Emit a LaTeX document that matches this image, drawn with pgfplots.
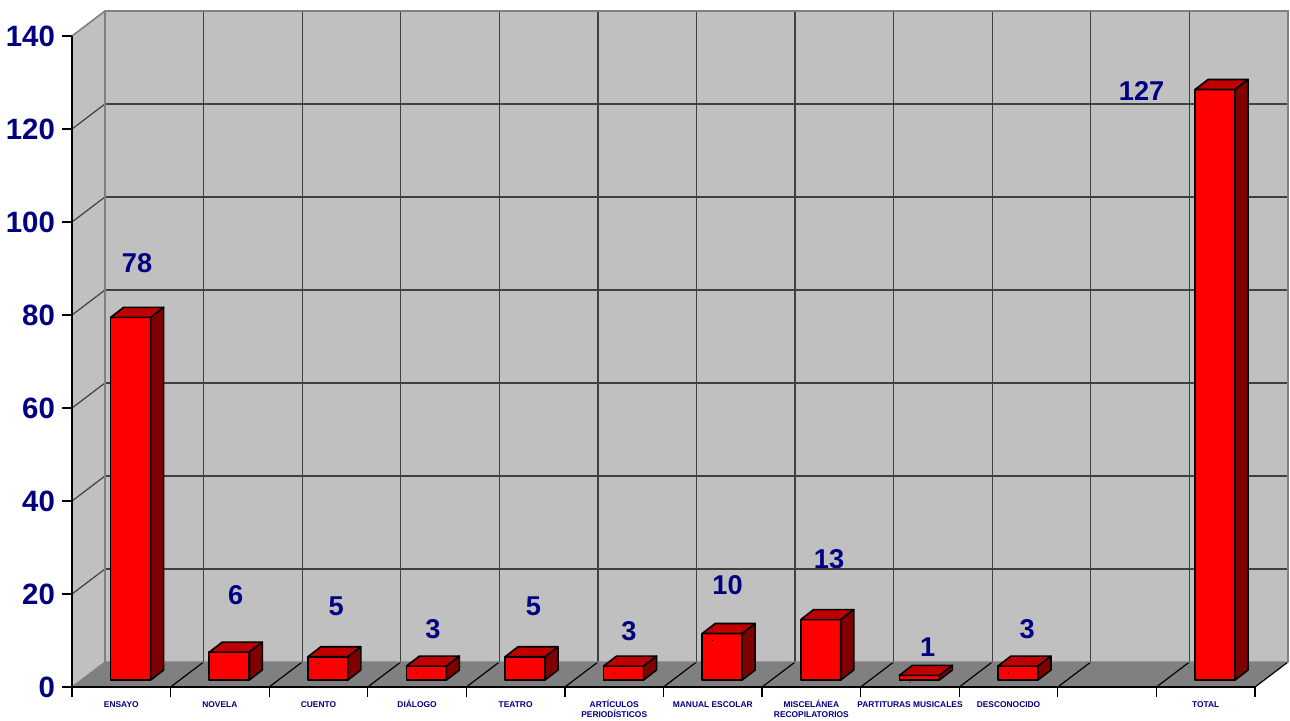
\documentclass[border=0pt]{standalone}
\usepackage{pgfplots}
\pgfplotsset{compat=1.18}
\usepackage{pgfplotstable}
\usepackage{fontspec}
\setmainfont{Liberation Sans}
\definecolor{navy}{HTML}{000080}
\definecolor{wall}{HTML}{C0C0C0}
\definecolor{floorc}{HTML}{808080}
\definecolor{edgec}{HTML}{808080}
\definecolor{gridc}{HTML}{404040}
\definecolor{barfront}{HTML}{FF0000}
\definecolor{bartop}{HTML}{C00000}
\definecolor{barside}{HTML}{800000}

\pgfplotstableread{
x v lx ly
0 78 0.16 91.2
1 6 1.16 19.8
2 5 2.18 17.4
3 3 3.16 12.5
4 5 4.18 17.4
5 3 5.15 12.0
6 10 6.15 21.9
7 13 7.18 27.5
8 1 8.18 8.6
9 3 9.19 12.5
11 127 10.35 128.2
}\data

\begin{document}
\begin{tikzpicture}
\path[use as bounding box] (0,0) rectangle (645pt,360pt);
\begin{axis}[
  at={(36pt,16.5pt)}, anchor=south west,
  scale only axis, width=591.5pt, height=325.5pt,
  xmin=-0.5, xmax=11.5, ymin=0, ymax=140,
  clip=false, axis on top,
  axis x line*=bottom, axis y line*=left,
  axis line style={black, line width=0.7pt},
  xtick={0,...,11},
  xticklabels={ENSAYO,NOVELA,CUENTO,DIÁLOGO,TEATRO,{ARTÍCULOS\\PERIODÍSTICOS},MANUAL ESCOLAR,{MISCELÁNEA\\RECOPILATORIOS},PARTITURAS MUSICALES,DESCONOCIDO,,TOTAL},
  minor xtick={-0.5,0.5,...,11.5},
  major x tick style={draw=none},
  ytick={0,20,...,140},
  tick align=outside,
  major tick length=5pt, minor tick length=5pt,
  tick style={black, line width=0.6pt},
  xticklabel style={font=\fontsize{4.2}{5}\selectfont\bfseries, text=navy, align=center,
    anchor=north, yshift=2pt, execute at begin node={\vphantom{ÁÍ}}},
  yticklabel style={font=\fontsize{14.7}{16}\selectfont\bfseries, text=navy},
  /pgf/number format/assume math mode=true,
]
% walls
\fill[wall] (axis cs:-0.5,0) -- (axis cs:-0.1653,5.376) -- (axis cs:-0.1653,145.376) -- (axis cs:-0.5,140) -- cycle;
\fill[wall] (axis cs:-0.1653,5.376) rectangle (axis cs:11.8347,145.376);
\fill[floorc] (axis cs:-0.5,0) -- (axis cs:11.5,0) -- (axis cs:11.8347,5.376) -- (axis cs:-0.1653,5.376) -- cycle;
% grid on back wall
\pgfplotsinvokeforeach{20,40,60,80,100,120}{
  \draw[gridc, line width=0.6pt] (axis cs:-0.1653,#1+5.376) -- (axis cs:11.8347,#1+5.376);
  \draw[gridc, line width=0.6pt] (axis cs:-0.5,#1) -- (axis cs:-0.1653,#1+5.376);
}
\pgfplotsinvokeforeach{0.5,1.5,2.5,3.5,4.5,5.5,6.5,7.5,8.5,9.5,10.5}{
  \draw[gridc, line width=0.6pt] (axis cs:#1+0.3347,5.376) -- (axis cs:#1+0.3347,145.376);
}
\pgfplotsinvokeforeach{0.5,1.5,2.5,3.5,4.5,5.5,6.5,7.5,8.5,9.5,10.5,11.5}{
  \draw[black, line width=0.6pt] (axis cs:#1,0) -- (axis cs:#1+0.3347,5.376);
}
% wall edges
\draw[edgec, line width=0.8pt] (axis cs:-0.5,140) -- (axis cs:-0.1653,145.376) -- (axis cs:11.8347,145.376) -- (axis cs:11.8347,5.376);
\draw[edgec, line width=0.8pt] (axis cs:-0.1653,5.376) -- (axis cs:-0.1653,145.376);
\draw[edgec, line width=0.6pt] (axis cs:-0.5,0) -- (axis cs:-0.1653,5.376) -- (axis cs:11.8347,5.376);

% 3D bars
\addplot[scatter, only marks, mark=*, mark size=0.01pt,
  mark options={draw=none, fill=none},
  visualization depends on={y \as \val},
  scatter/@pre marker code/.code={
    \pgfmathsetmacro\yb{3.5-\val*2.325}
    \pgfmathsetmacro\ybs{8.5-\val*2.325}
    \filldraw[fill=barfront, draw=black, line width=0.8pt, line join=round]
      (-5.3pt,\yb pt) rectangle (14.7pt,3.5pt);
    \filldraw[fill=bartop, draw=black, line width=0.8pt, line join=round]
      (-5.3pt,3.5pt) -- (14.7pt,3.5pt) -- (21.2pt,8.5pt) -- (1.2pt,8.5pt) -- cycle;
    \filldraw[fill=barside, draw=black, line width=0.8pt, line join=round]
      (14.7pt,3.5pt) -- (21.2pt,8.5pt) -- (21.2pt,\ybs pt) -- (14.7pt,\yb pt) -- cycle;
  },
  scatter/@post marker code/.code={},
] table[x=x, y=v] {\data};

% value labels
\addplot[draw=none, nodes near coords, point meta=explicit symbolic,
  every node near coord/.append style={anchor=center, text=navy,
    font=\fontsize{13.6}{15}\selectfont\bfseries, inner sep=0pt}]
  table[x=lx, y=ly, meta=v] {\data};
\end{axis}
\end{tikzpicture}
\end{document}
